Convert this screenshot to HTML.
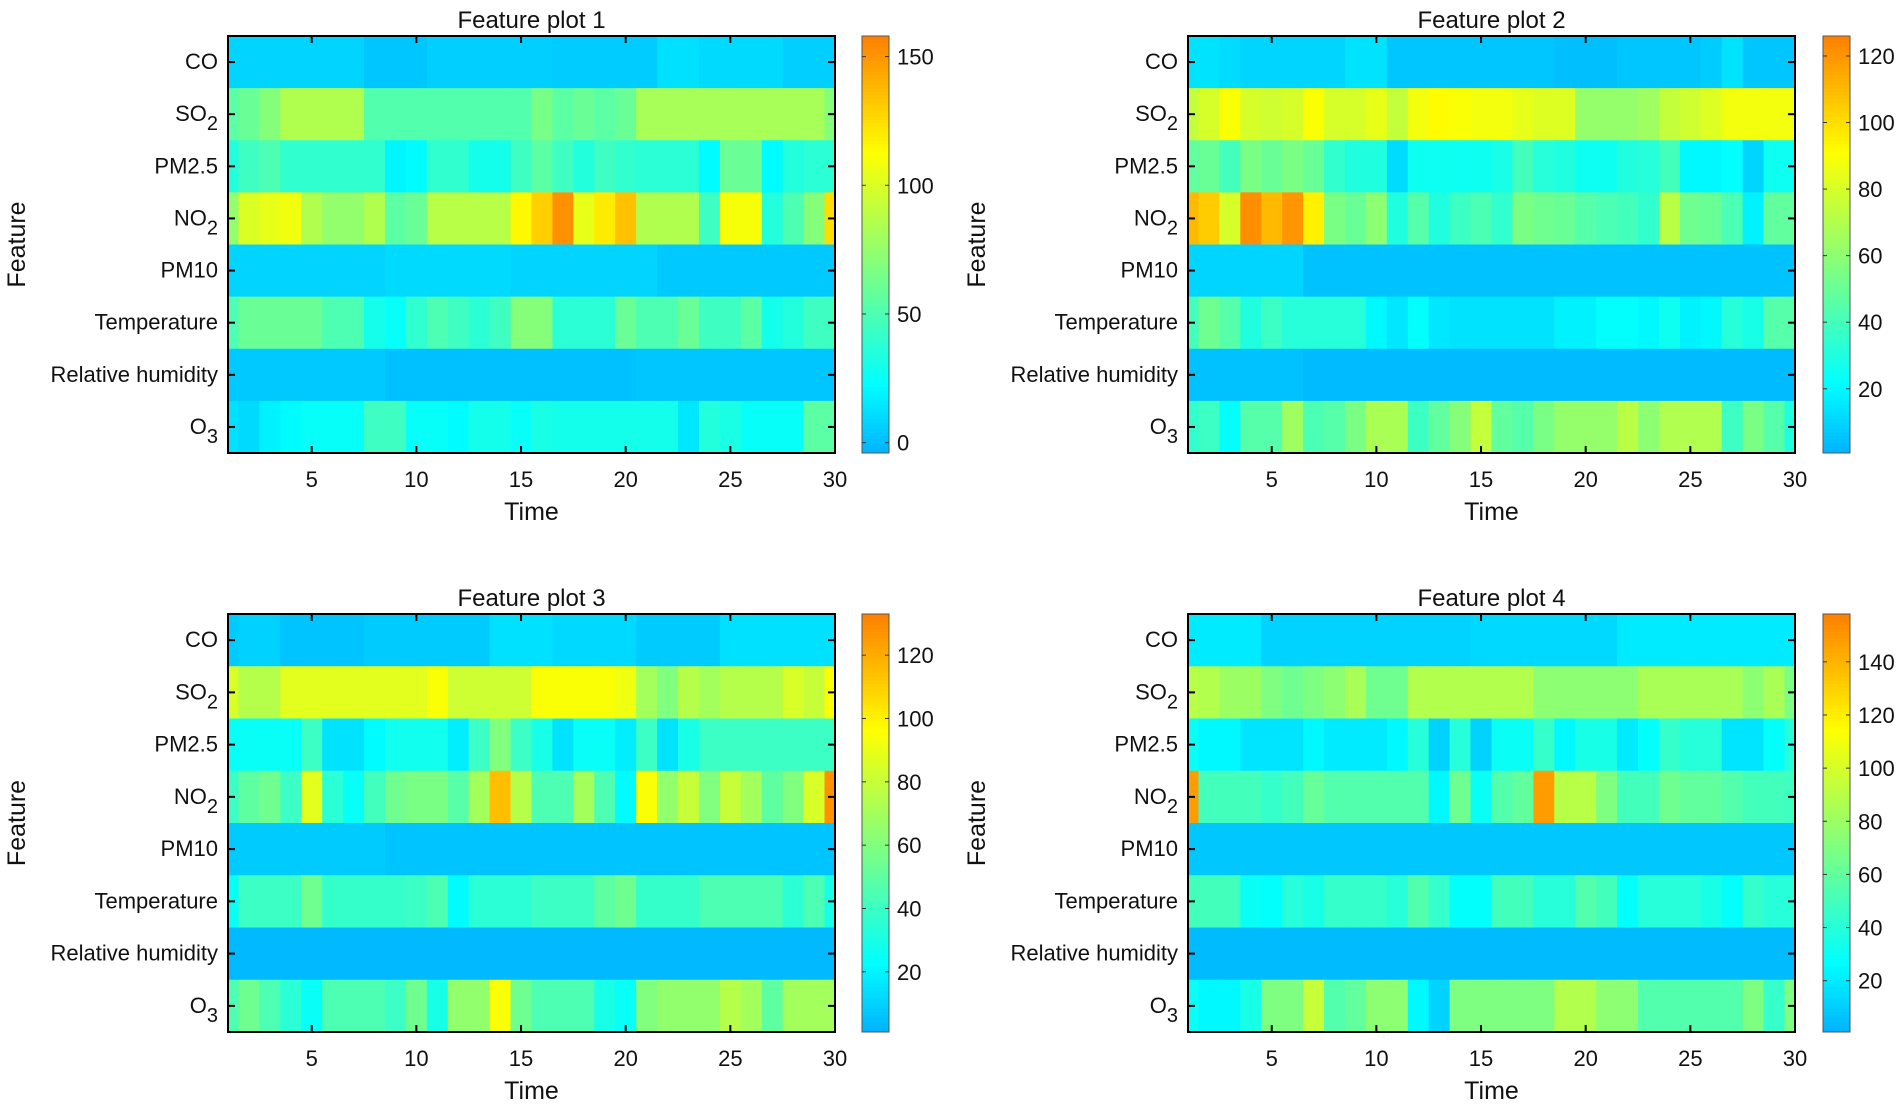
<!DOCTYPE html>
<html><head><meta charset="utf-8"><title>Feature plots</title>
<style>
html,body{margin:0;padding:0;background:#fff;}
svg{display:block;font-family:"Liberation Sans",Arial,sans-serif;}
</style></head>
<body>
<svg id="fig" width="1901" height="1107" viewBox="0 0 1901 1107" xmlns="http://www.w3.org/2000/svg"></svg>
<script>
// ---- data ----
const features = ["CO","SO2","PM2.5","NO2","PM10","Temperature","Relative humidity","O3"];
const timeTicks = [5,10,15,20,25,30];
const plotTitles = ["Feature plot 1","Feature plot 2","Feature plot 3","Feature plot 4"];
const cbTicks1 = [0,50,100,150];
const cbTicks2 = [20,40,60,80,100,120];
const cbTicks3 = [20,40,60,80,100,120];
const cbTicks4 = [20,40,60,80,100,120,140];
const cbRange1 = [-4,158];
const cbRange2 = [0.7,126];
const cbRange3 = [1,133];
const cbRange4 = [0.7,158];

const p1CO   = [8,8,8,8,8,8,8,3,3,3,6,6,6,6,6,6,5,5,5,5,5,12,12,10,10,10,10,6,6,6];
const p1SO2  = [55,60,70,85,85,85,85,52,52,52,52,52,52,52,52,65,55,60,55,60,82,82,82,82,82,82,82,82,82,70];
const p1PM25 = [35,45,50,40,40,40,40,40,20,22,40,40,30,30,45,55,45,35,45,40,38,38,38,22,60,60,22,35,38,38];
const p1NO2  = [75,100,105,108,85,75,75,85,55,60,88,88,88,88,115,130,152,105,120,135,85,85,85,45,110,110,35,50,70,125];
const p1PM10 = [8,8,8,8,8,8,8,8,10,10,10,10,10,10,8,8,8,8,8,8,8,4,4,4,4,4,4,4,4,4];
const p1Temp = [50,60,60,60,60,50,50,30,25,40,50,45,38,45,70,70,38,38,38,60,50,50,60,45,45,55,30,35,45,45];
const p1RH   = [4,4,4,4,4,4,4,4,1,1,1,1,1,1,1,1,1,1,1,1,3,3,3,3,3,3,3,3,3,3];
const p1O3   = [12,10,18,22,25,25,25,45,45,25,25,22,30,30,25,32,30,30,30,30,30,30,15,35,32,25,25,25,55,55];

const p2CO   = [14,14,12,10,10,10,10,10,14,14,6,6,6,6,6,6,6,6,4,4,4,6,6,6,6,8,14,6,6,6];
const p2SO2  = [75,80,90,80,78,80,90,80,80,85,75,88,92,90,88,88,85,82,82,62,62,62,65,75,78,82,88,88,88,88];
const p2PM25 = [48,50,40,55,50,55,50,35,30,30,12,25,25,25,25,28,40,32,30,25,25,30,32,40,20,20,22,10,25,25];
const p2NO2  = [110,105,80,122,110,120,95,55,50,60,30,45,30,38,42,35,55,52,50,45,42,40,35,72,52,50,42,18,48,48];
const p2PM10 = [10,10,10,10,10,10,5,5,5,5,5,5,5,5,5,5,5,5,5,5,5,5,5,5,5,5,5,5,5,5];
const p2Temp = [40,52,45,30,38,32,32,32,32,20,15,22,15,14,14,14,14,14,18,18,22,22,20,25,18,20,32,28,45,45];
const p2RH   = [5,5,5,5,5,5,3,3,3,3,3,3,3,3,3,3,3,3,3,3,3,3,3,3,3,3,3,3,3,3];
const p2O3   = [35,38,22,45,45,65,42,45,55,68,68,38,48,58,75,48,45,55,62,62,62,72,60,70,70,70,38,55,45,30];

const p3CO   = [8,10,10,6,6,6,6,8,8,8,8,8,8,14,14,14,12,12,12,12,8,8,8,8,14,14,14,14,14,14];
const p3SO2  = [85,75,75,88,88,88,88,88,88,88,95,82,82,82,82,95,95,95,95,92,70,60,75,70,75,75,75,85,80,95];
const p3PM25 = [25,25,25,25,40,15,15,22,28,28,28,18,40,60,40,30,15,25,25,18,40,15,30,40,40,40,40,40,40,40];
const p3NO2  = [40,50,55,40,88,35,25,42,55,58,58,48,70,115,75,45,45,70,45,22,95,65,80,60,80,70,50,60,85,128];
const p3PM10 = [8,8,8,8,8,8,8,8,6,6,6,6,6,6,6,6,6,6,6,6,6,6,6,6,6,6,6,6,6,6];
const p3Temp = [25,40,40,40,55,38,38,38,38,40,45,22,35,35,35,40,40,40,50,55,38,38,38,45,45,45,45,35,45,30];
const p3RH   = [3,3,3,3,3,3,3,3,3,3,3,3,3,3,3,3,3,3,3,3,3,3,3,3,3,3,3,3,3,3];
const p3O3   = [45,55,45,35,25,45,45,45,40,55,30,65,65,95,55,45,45,45,30,25,60,65,65,65,75,70,50,70,70,70];

const p4CO   = [20,20,20,20,12,12,12,12,12,12,12,12,12,12,14,14,14,14,14,14,14,20,20,20,20,20,20,20,20,20];
const p4SO2  = [90,88,80,80,70,65,70,75,85,65,65,88,88,88,88,88,88,75,75,75,75,75,85,85,85,85,85,75,85,70];
const p4PM25 = [30,25,25,18,18,18,25,20,20,20,25,40,12,40,12,30,30,45,25,35,35,20,28,45,40,40,18,18,28,40];
const p4NO2  = [148,50,50,50,45,50,62,55,55,55,55,55,25,65,30,55,60,148,90,90,70,50,50,65,60,60,55,50,50,48];
const p4PM10 = [8,8,8,8,8,8,8,8,8,8,8,8,8,8,8,8,8,8,8,8,8,8,8,8,8,8,8,8,8,8];
const p4Temp = [50,50,50,30,28,40,35,45,45,45,40,55,45,28,28,50,50,40,40,55,50,28,40,40,40,35,28,45,40,40];
const p4RH   = [4,4,4,4,4,4,4,4,4,4,4,4,4,4,4,4,4,4,4,4,4,4,4,4,4,4,4,4,4,4];
const p4O3   = [30,25,25,35,70,70,95,55,60,75,75,25,12,70,70,70,70,70,88,88,75,75,55,55,55,55,55,70,45,70];

const plotData = [
  [p1CO,p1SO2,p1PM25,p1NO2,p1PM10,p1Temp,p1RH,p1O3],
  [p2CO,p2SO2,p2PM25,p2NO2,p2PM10,p2Temp,p2RH,p2O3],
  [p3CO,p3SO2,p3PM25,p3NO2,p3PM10,p3Temp,p3RH,p3O3],
  [p4CO,p4SO2,p4PM25,p4NO2,p4PM10,p4Temp,p4RH,p4O3]
];
const cbTicksAll = [cbTicks1,cbTicks2,cbTicks3,cbTicks4];
const cbRangeAll = [cbRange1,cbRange2,cbRange3,cbRange4];

// ---- layout ----
const NS = "http://www.w3.org/2000/svg";
const svg = document.getElementById("fig");
const panels = [
  {x0:228,x1:835,y0:36,y1:453,cb:862},
  {x0:1188,x1:1795,y0:36,y1:453,cb:1823},
  {x0:228,x1:835,y0:614,y1:1032,cb:862},
  {x0:1188,x1:1795,y0:614,y1:1032,cb:1823}
];
const cbW = 27;
function mk(tag, attrs, parent){
  const e = document.createElementNS(NS, tag);
  for (const k in attrs) e.setAttribute(k, attrs[k]);
  (parent||svg).appendChild(e);
  return e;
}
function jet(t){
  const x = 0.3 + 0.45*Math.max(0,Math.min(1,t));
  const c = v => Math.round(255*Math.max(0,Math.min(1,v)));
  return `rgb(${c(1.5-Math.abs(4*x-3))},${c(1.5-Math.abs(4*x-2))},${c(1.5-Math.abs(4*x-1))})`;
}
function addLabel(parent, name, x, y, anchor){
  const t = mk("text",{x:x,y:y,"text-anchor":anchor,"font-size":22,fill:"#111"},parent);
  const m = name.match(/^([A-Z]+)(\d)$/);
  if (m && (name==="SO2"||name==="NO2"||name==="O3")) {
    t.appendChild(document.createTextNode(m[1]));
    const s = mk("tspan",{dy:9,"font-size":20},t);
    s.textContent = m[2];
  } else t.textContent = name;
  return t;
}

panels.forEach((P, pi) => {
  const g = mk("g",{});
  
  
  const data = plotData[pi];
  const [vmin, vmax] = cbRangeAll[pi];
  const xs = t => P.x0 + (t-1)*(P.x1-P.x0)/29;
  const rowH = (P.y1-P.y0)/features.length;
  const ys = r => P.y0 + r*rowH;
  data.forEach((row, r) => {
    row.forEach((v, i) => {
      const t = i+1;
      const a = Math.max(P.x0, xs(t-0.5)), b = Math.min(P.x1, xs(t+0.5));
      const rc = mk("rect",{x:a.toFixed(2),y:ys(r).toFixed(2),width:(b-a+0.6).toFixed(2),height:(rowH+0.6).toFixed(2),fill:jet((v-vmin)/(vmax-vmin))},g);
      
      
    });
  });
  const fr = mk("rect",{x:P.x0,y:P.y0,width:P.x1-P.x0,height:P.y1-P.y0,fill:"none",stroke:"#000","stroke-width":2},g);
  
  
  timeTicks.forEach(t => {
    const x = xs(t);
    mk("line",{x1:x,x2:x,y1:P.y1,y2:P.y1-7,stroke:"#000","stroke-width":2},g);
    mk("line",{x1:x,x2:x,y1:P.y0,y2:P.y0+7,stroke:"#000","stroke-width":2},g);
    const lb = mk("text",{x:x,y:P.y1+34,"text-anchor":"middle","font-size":22,fill:"#111"},g);
    lb.textContent = t;
    
    
  });
  features.forEach((f, r) => {
    const y = ys(r)+rowH/2;
    mk("line",{x1:P.x0,x2:P.x0+7,y1:y,y2:y,stroke:"#000","stroke-width":2},g);
    mk("line",{x1:P.x1,x2:P.x1-7,y1:y,y2:y,stroke:"#000","stroke-width":2},g);
    const lb = addLabel(g, f, P.x0-10, y+7, "end");
    
    
  });
  const ti = mk("text",{x:(P.x0+P.x1)/2,y:P.y0-8,"text-anchor":"middle","font-size":24,fill:"#111"},g);
  ti.textContent = plotTitles[pi];
  
  
  const xl = mk("text",{x:(P.x0+P.x1)/2,y:P.y1+67,"text-anchor":"middle","font-size":25,fill:"#111"},g);
  xl.textContent = "Time";
  
  
  const lx = P.x0 - 203, ly = (P.y0+P.y1)/2;
  const yl = mk("text",{x:lx,y:ly,"text-anchor":"middle","font-size":25,fill:"#111",transform:`rotate(-90 ${lx} ${ly})`},g);
  yl.textContent = "Feature";
  
  
  const cg = mk("g",{},g);
  
  
  const N = 120, H = P.y1-P.y0;
  for (let k=0;k<N;k++){
    mk("rect",{x:P.cb,y:(P.y1 - (k+1)*H/N).toFixed(2),width:cbW,height:(H/N+0.5).toFixed(2),fill:jet((k+0.5)/N)},cg);
  }
  mk("rect",{x:P.cb,y:P.y0,width:cbW,height:H,fill:"none",stroke:"#555","stroke-width":1},cg);
  const cy = v => P.y1 - (v-vmin)/(vmax-vmin)*H;
  cbTicksAll[pi].forEach(v => {
    const y = cy(v);
    mk("line",{x1:P.cb+cbW,x2:P.cb+cbW-4,y1:y,y2:y,stroke:"#333","stroke-width":1},cg);
    mk("line",{x1:P.cb,x2:P.cb+4,y1:y,y2:y,stroke:"#333","stroke-width":1},cg);
    const lb = mk("text",{x:P.cb+cbW+8,y:y+8,"font-size":22,fill:"#111"},cg);
    lb.textContent = v;
    
    
  });
});
</script>
</body></html>
